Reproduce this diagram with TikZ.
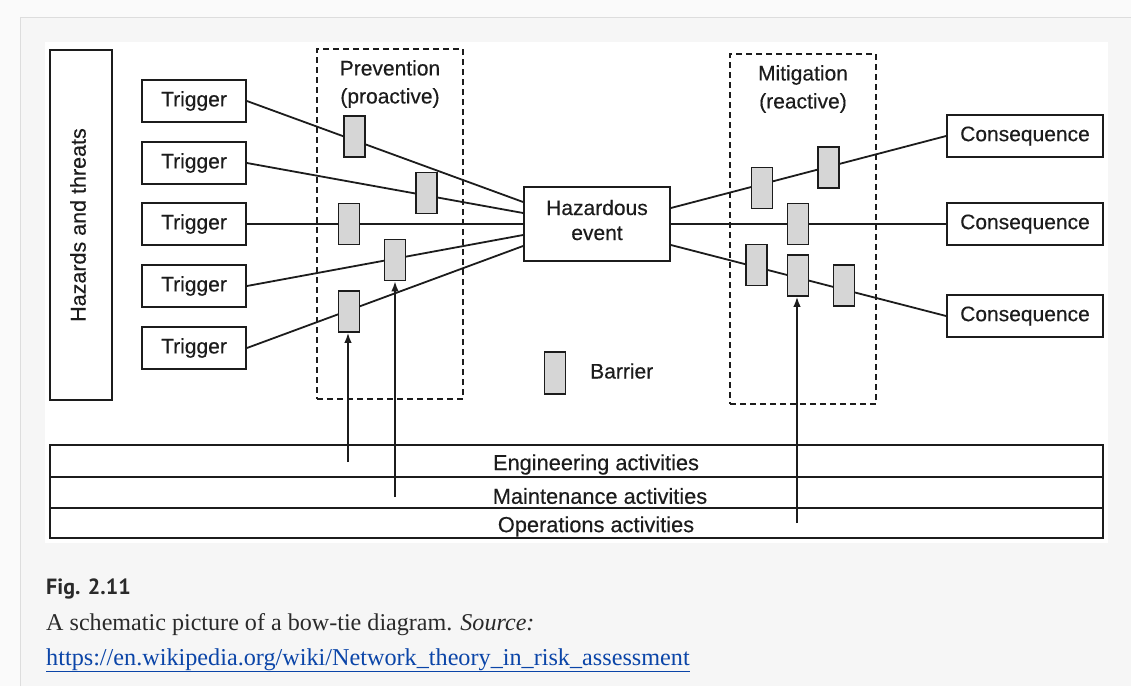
\documentclass[tikz,border=0pt]{standalone}
\usepackage{fontspec}
\setmainfont{Liberation Serif}
\setsansfont{Liberation Sans}
\newfontfamily\scanfont{Liberation Sans}[FakeBold=0.35]
\newfontfamily\capfont{PT Sans}
\usetikzlibrary{arrows.meta,calc}
\definecolor{ink}{HTML}{1C1C1C}
\definecolor{outerbg}{HTML}{FAFAFA}
\definecolor{panelbg}{HTML}{F6F6F6}
\definecolor{panelline}{HTML}{DDDDDD}
\definecolor{barfill}{HTML}{D6D6D6}
\definecolor{linkblue}{HTML}{0B45A8}
\definecolor{captext}{HTML}{2A2A2A}
\begin{document}
\begin{tikzpicture}[x=1pt,y=-1pt,
  lbl/.style={inner sep=0pt, text=ink, font=\scanfont\fontsize{21}{25}\selectfont},
  box/.style={lbl, draw=ink, line width=1.8pt},
  trig/.style={box, minimum width=104pt, minimum height=42pt},
  cons/.style={box, minimum width=156pt, minimum height=42pt},
  barrier/.style={draw=ink, fill=barfill, line width=1.8pt, inner sep=0pt, minimum width=21pt, minimum height=41pt},
  zone/.style={draw=ink, line width=1.8pt, dash pattern=on 6pt off 4pt, inner sep=0pt},
  row/.style={draw=ink, line width=1.8pt, inner sep=0pt, minimum width=1053pt},
  rowtext/.style={lbl, font=\scanfont\fontsize{21.8}{25}\selectfont},
  link/.style={draw=ink, line width=1.8pt},
  act/.style={draw=ink, line width=1.6pt, -{Latex[length=10pt,width=7.5pt]}},
  captionnode/.style={inner sep=0pt, anchor=base west}
]
\useasboundingbox (0,0) rectangle (1131,686);
% page background
\fill[outerbg] (0,0) rectangle (1131,686);
\fill[panelbg] (20,17) rectangle (1131,686);
\draw[panelline, line width=1pt] (20,686) -- (20,17) -- (1131,17);
\fill[white] (45,42) rectangle (1108,543);

% dashed zones
\node[zone, minimum width=146pt, minimum height=350pt] (prev) at (390,224) {};
\node[zone, minimum width=146pt, minimum height=350pt] (mitig) at (803,229) {};
\node[lbl, align=center, font=\scanfont\fontsize{21}{28}\selectfont] (prevlbl) at (390,84) {Prevention\\(proactive)};
\node[lbl, align=center, font=\scanfont\fontsize{21}{28}\selectfont] (mitlbl) at (803,89) {Mitigation\\(reactive)};

% hazards and threats
\node[box, minimum width=62pt, minimum height=350pt] (haz) at (81,225) {};
\node[lbl, rotate=90, font=\scanfont\fontsize{21.5}{25}\selectfont] (hazlbl) at (78,225) {Hazards and threats};

% triggers
\node[trig] (t1) at (194,101) {Trigger};
\node[trig] (t2) at (194,163) {Trigger};
\node[trig] (t3) at (194,224) {Trigger};
\node[trig] (t4) at (194,286) {Trigger};
\node[trig] (t5) at (194,348) {Trigger};

% hazardous event
\node[box, minimum width=146pt, minimum height=74pt] (he) at (597,224) {};
\node[lbl, align=center] (helbl) at (597,220) {Hazardous\\event};

% consequences
\node[cons] (c1) at (1025,136) {Consequence};
\node[cons] (c2) at (1025,224) {Consequence};
\node[cons] (c3) at (1025,316) {Consequence};

% attachment points on the hazardous event
\coordinate (hl1) at ($(he.west)+(0,-22)$);
\coordinate (hl2) at ($(he.west)+(0,-11)$);
\coordinate (hl3) at (he.west);
\coordinate (hl4) at ($(he.west)+(0,11)$);
\coordinate (hl5) at ($(he.west)+(0,22)$);
\coordinate (hr1) at ($(he.east)+(0,-16)$);
\coordinate (hr2) at (he.east);
\coordinate (hr3) at ($(he.east)+(0,21)$);

% connectors
\draw[link] (t1.east) -- (hl1);
\draw[link] (t2.east) -- (hl2);
\draw[link] (t3.east) -- (hl3);
\draw[link] (t4.east) -- (hl4);
\draw[link] (t5.east) -- (hl5);
\draw[link] (hr1) -- (c1.west);
\draw[link] (hr2) -- (c2.west);
\draw[link] (hr3) -- (c3.west);

% barriers (prevention)
\node[barrier] (b1) at (354.5,136.5) {};
\node[barrier] (b2) at (426.5,193) {};
\node[barrier] (b3) at (349,224) {};
\node[barrier] (b4) at (395,260) {};
\node[barrier] (b5) at (349,311.5) {};
% barriers (mitigation)
\node[barrier] (m1) at (762,188) {};
\node[barrier] (m2) at (828.5,167.5) {};
\node[barrier] (m3) at (798,224) {};
\node[barrier] (m4) at (756.5,265) {};
\node[barrier] (m5) at (798,275.5) {};
\node[barrier] (m6) at (844,285.5) {};

% legend
\node[barrier, minimum height=42pt] (legbar) at (555,373) {};
\node[lbl, anchor=west] (leglbl) at (590,371) {Barrier};

% activities table
\node[row, minimum height=32pt] (eng) at (576.5,461) {};
\node[row, minimum height=31pt] (mnt) at (576.5,492.5) {};
\node[row, minimum height=30pt] (ops) at (576.5,523) {};
\node[rowtext] (englbl) at (596,464.5) {Engineering activities};
\node[rowtext] (mntlbl) at (600,496) {Maintenance activities};
\node[rowtext] (opslbl) at (596,526.5) {Operations activities};

% influence arrows
\coordinate (a1) at (348,462);
\coordinate (a2) at (395,497);
\coordinate (a3) at (797,523);
\draw[act] (a1) -- (a1 |- b5.south);
\draw[act] (a2) -- (a2 |- b4.south);
\draw[act] (a3) -- (a3 |- m5.south);

% caption
\node[captionnode, text=captext, font=\capfont\bfseries\fontsize{22}{24}\selectfont] (fig) at (46,594) {Fig. 2.11};
\node[captionnode, text=captext, font=\rmfamily\fontsize{24.1}{28}\selectfont] (captxt) at (46,630) {A schematic picture of a bow-tie diagram. \textit{Source:}};
\node[captionnode, text=linkblue, font=\rmfamily\fontsize{24.2}{28}\selectfont] (url) at (46,665) {\underline{https://en.wikipedia.org/wiki/Network\_theory\_in\_risk\_assessment}};
\end{tikzpicture}
\end{document}
